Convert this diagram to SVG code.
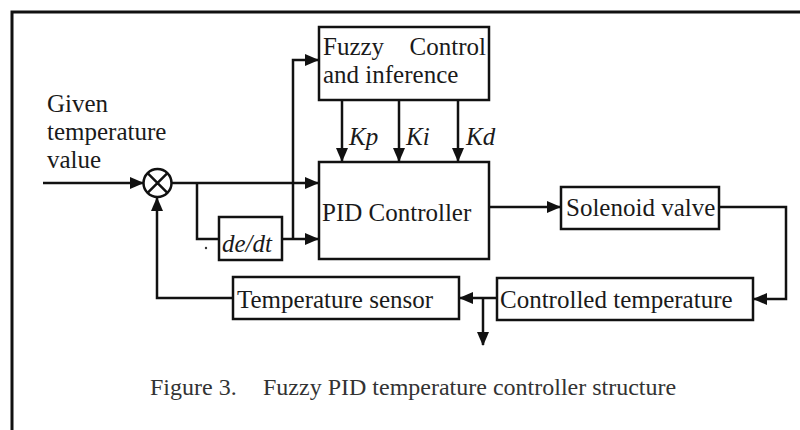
<svg xmlns="http://www.w3.org/2000/svg" width="800" height="430" viewBox="0 0 800 430">
<style>
.box{fill:none;stroke:#111;stroke-width:2.5}
.ln{fill:none;stroke:#111;stroke-width:2.5}
.t{font-family:"Liberation Serif","Times New Roman",serif;font-size:25px;fill:#1a1a1a}
.i{font-style:italic}
.cap{font-family:"Liberation Serif","Times New Roman",serif;font-size:24px;fill:#333}
</style>
<defs>
<marker id="ar" markerUnits="userSpaceOnUse" markerWidth="14" markerHeight="12" viewBox="0 0 14 12" refX="13" refY="6" orient="auto">
<path d="M0,0 L14,6 L0,12 Z" fill="#111"/>
</marker>
</defs>
<rect width="800" height="430" fill="#fff"/>
<path d="M12,430 L12,12 L800,12" fill="none" stroke="#111" stroke-width="3"/>

<g id="connectors">
<path class="ln" d="M43,183 L143,183" marker-end="url(#ar)"/>
<path class="ln" d="M172,183 L318,183" marker-end="url(#ar)"/>
<path class="ln" d="M197,183 L197,239 L219,239"/>
<path class="ln" d="M282,239 L318,239" marker-end="url(#ar)"/>
<path class="ln" d="M293,239 L293,60 L318,60" marker-end="url(#ar)"/>
<path class="ln" d="M342,100 L342,161" marker-end="url(#ar)"/>
<path class="ln" d="M399,100 L399,161" marker-end="url(#ar)"/>
<path class="ln" d="M458,100 L458,161" marker-end="url(#ar)"/>
<path class="ln" d="M489,207 L560,207" marker-end="url(#ar)" stroke-width="3.5"/>
<path class="ln" d="M719,207 L786,207 L786,299 L754,299" marker-end="url(#ar)"/>
<path class="ln" d="M497,298 L460,298" marker-end="url(#ar)"/>
<path class="ln" d="M483,298 L483,345" marker-end="url(#ar)"/>
<path class="ln" d="M233,298 L157,298 L157,198" marker-end="url(#ar)"/>
<circle cx="206" cy="248" r="1.2" fill="#333"/>
</g>

<g id="input-label">
<text class="t" x="47" y="112">Given</text>
<text class="t" x="47" y="140">temperature</text>
<text class="t" x="47" y="168">value</text>
</g>

<g id="sum">
<circle cx="157.5" cy="183" r="14" class="box"/>
<path class="ln" d="M147.6,173.1 L167.4,192.9 M167.4,173.1 L147.6,192.9"/>
</g>

<g id="fuzzy">
<rect class="box" x="319" y="27" width="170" height="73"/>
<text class="t" x="323" y="55">Fuzzy</text>
<text class="t" x="486" y="55" text-anchor="end">Control</text>
<text class="t" x="323" y="83">and inference</text>
</g>

<g id="gains">
<text class="t i" x="349" y="145">Kp</text>
<text class="t i" x="406" y="145">Ki</text>
<text class="t i" x="466" y="145">Kd</text>
</g>

<g id="pid">
<rect class="box" x="319" y="162" width="170" height="97"/>
<text class="t" x="322" y="221">PID Controller</text>
</g>

<g id="dedt">
<rect class="box" x="219" y="217" width="63" height="43"/>
<text class="t i" x="222" y="252">de/dt</text>
</g>

<g id="solenoid">
<rect class="box" x="561" y="187" width="158" height="42"/>
<text class="t" x="566" y="216">Solenoid valve</text>
</g>

<g id="controlled">
<rect class="box" x="497" y="278" width="256" height="42"/>
<text class="t" x="500" y="308">Controlled temperature</text>
</g>

<g id="sensor">
<rect class="box" x="233" y="277" width="226" height="42"/>
<text class="t" x="237" y="308">Temperature sensor</text>
</g>

<g id="caption">
<text class="cap" x="150" y="395">Figure 3.</text>
<text class="cap" x="263" y="395">Fuzzy PID temperature controller structure</text>
</g>
</svg>
